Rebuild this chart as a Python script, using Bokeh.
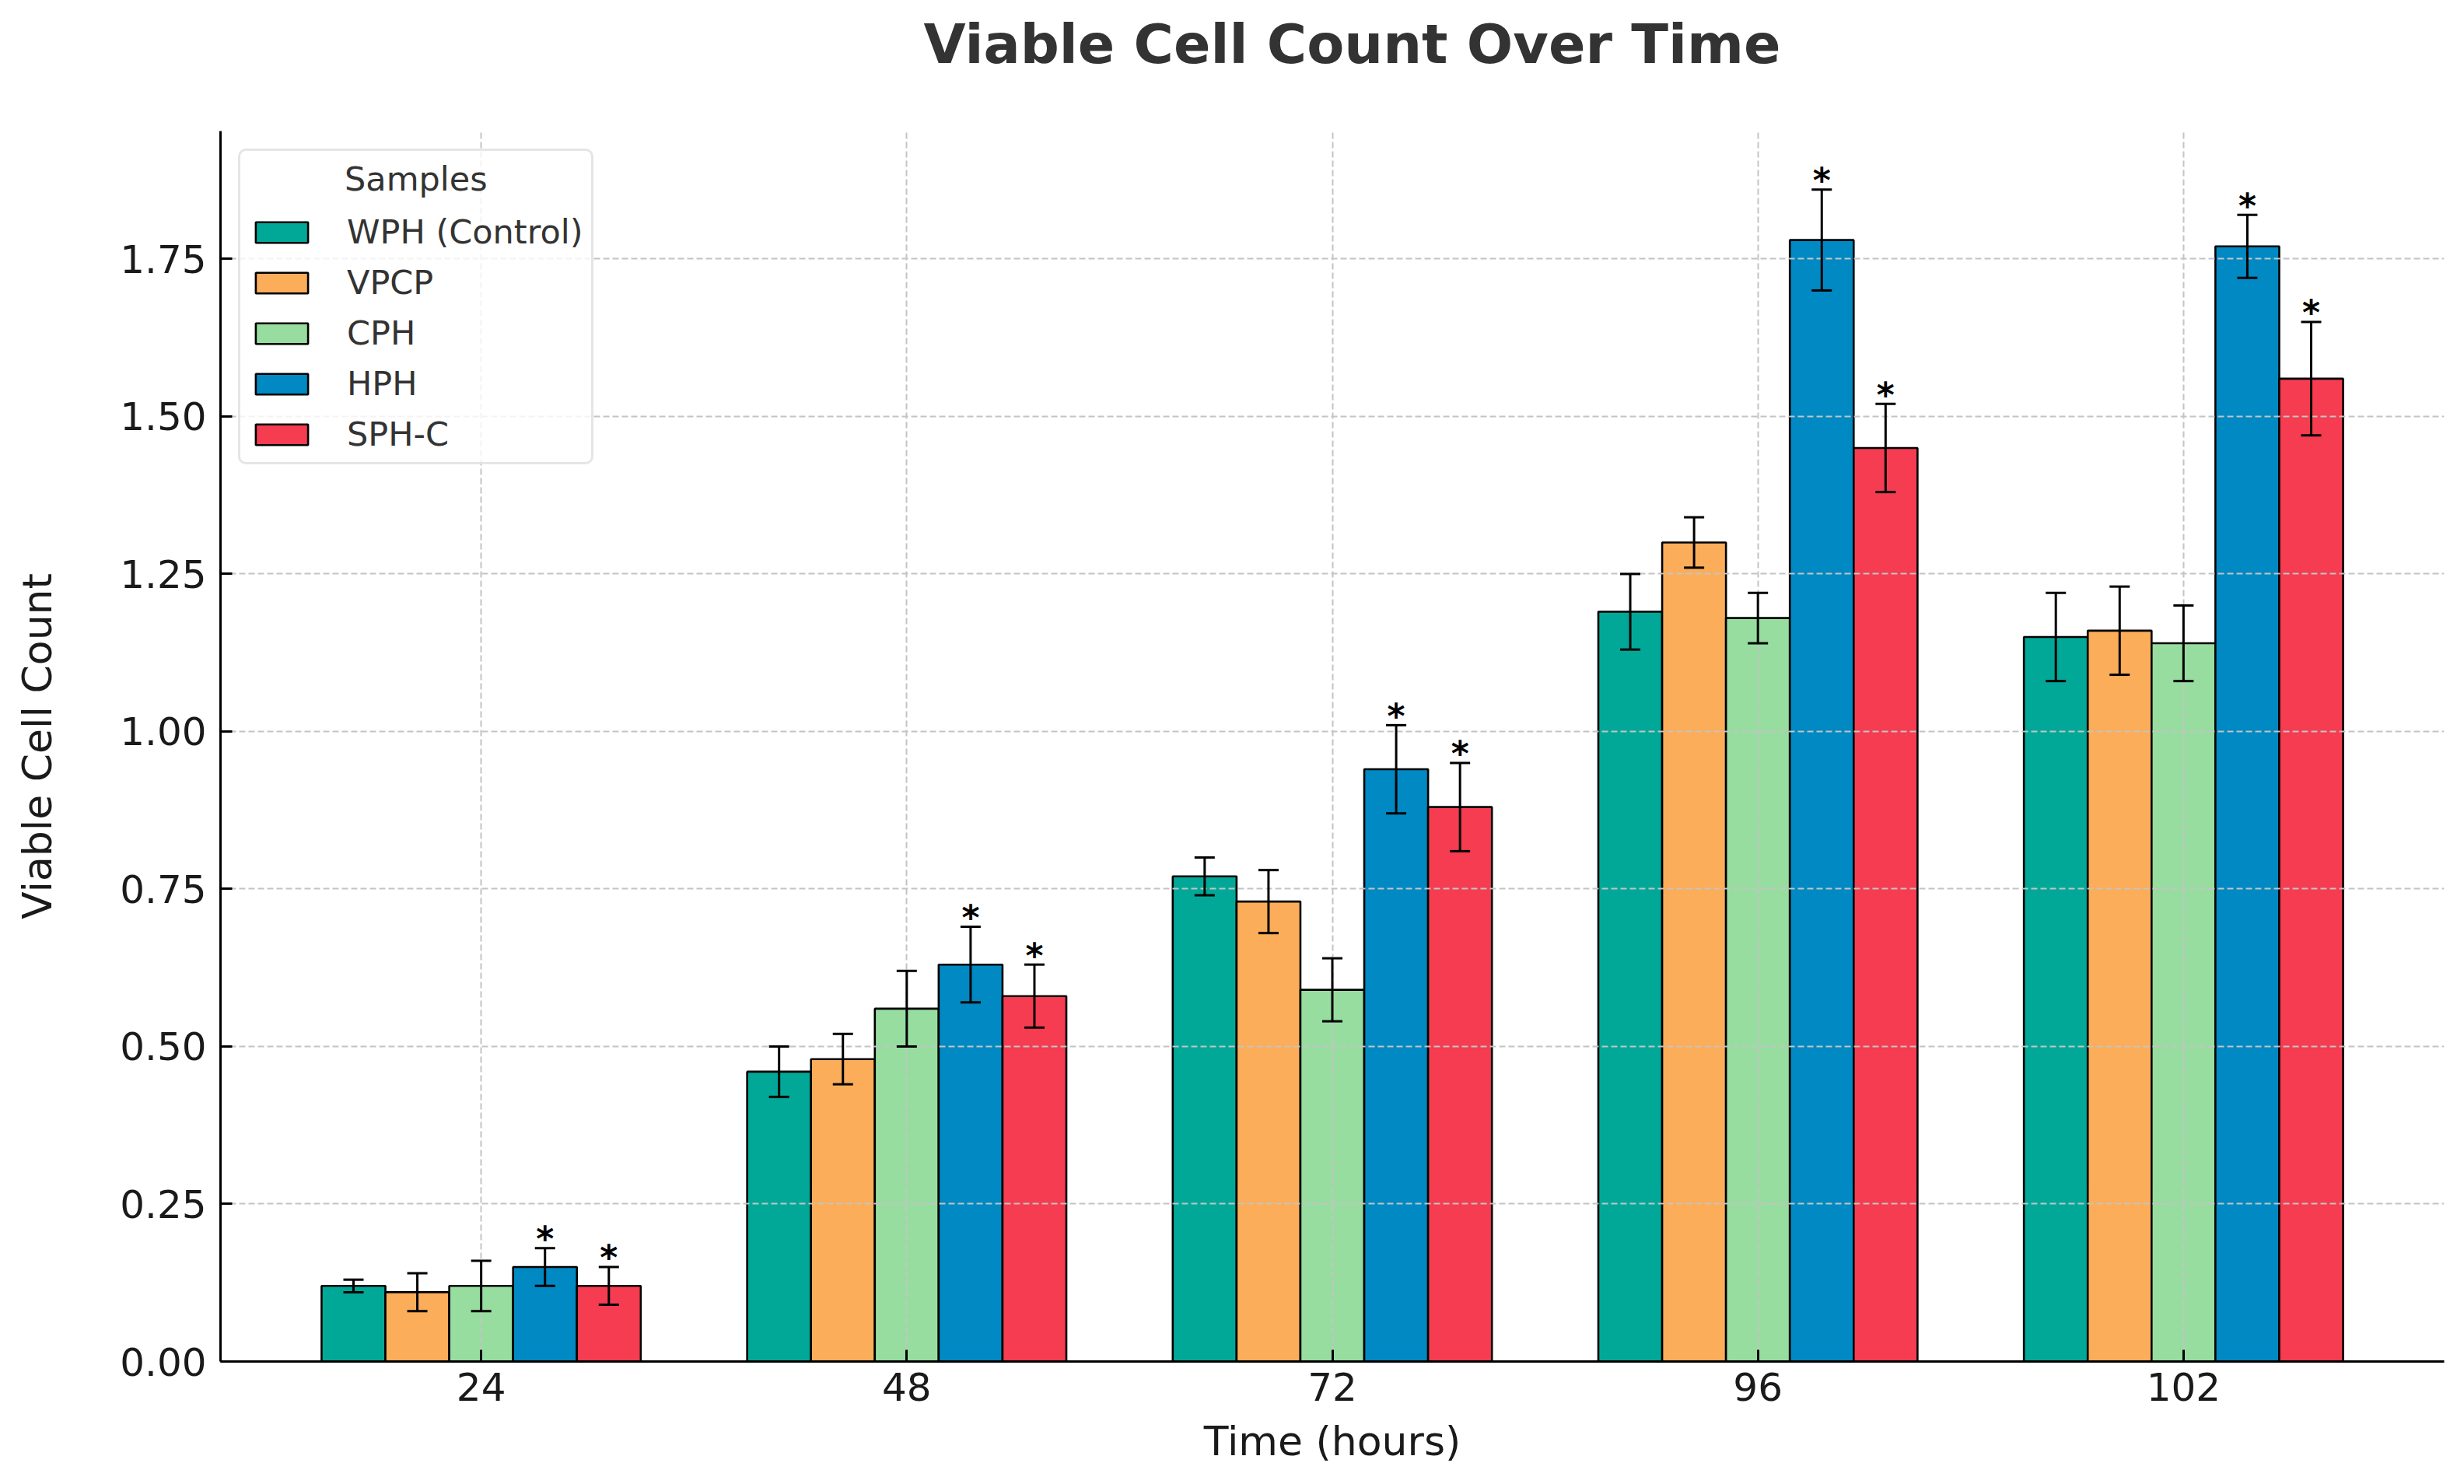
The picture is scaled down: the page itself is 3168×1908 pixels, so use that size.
from bokeh.plotting import figure
from bokeh.models import (Range1d, FixedTicker, PrintfTickFormatter, ColumnDataSource,
                          Whisker, TeeHead, Title)
from bokeh.embed import file_html
from bokeh.resources import INLINE
from bokeh.core.properties import value

# ---------------- data ----------------
time_labels = ["24", "48", "72", "96", "102"]
samples = ["WPH (Control)", "VPCP", "CPH", "HPH", "SPH-C"]

wph_mean = [0.12, 0.46, 0.77, 1.19, 1.15]
wph_err = [0.01, 0.04, 0.03, 0.06, 0.07]
vpcp_mean = [0.11, 0.48, 0.73, 1.30, 1.16]
vpcp_err = [0.03, 0.04, 0.05, 0.04, 0.07]
cph_mean = [0.12, 0.56, 0.59, 1.18, 1.14]
cph_err = [0.04, 0.06, 0.05, 0.04, 0.06]
hph_mean = [0.15, 0.63, 0.94, 1.78, 1.77]
hph_err = [0.03, 0.06, 0.07, 0.08, 0.05]
sph_mean = [0.12, 0.58, 0.88, 1.45, 1.56]
sph_err = [0.03, 0.05, 0.07, 0.07, 0.09]

significant = [False, False, False, True, True]
colors = ["#02A897", "#FCAD59", "#97DDA0", "#0089C2", "#F53C51"]
y_ticks = [0.0, 0.25, 0.5, 0.75, 1.0, 1.25, 1.5, 1.75]

means = [wph_mean, vpcp_mean, cph_mean, hph_mean, sph_mean]
errs = [wph_err, vpcp_err, cph_err, hph_err, sph_err]

FONT = value("DejaVu Sans")
bar_w = 0.15
n = len(samples)

p = figure(width=3152, height=1892, output_backend="svg", toolbar_location=None,
           x_range=Range1d(-0.6125, 4.6125), y_range=Range1d(0, 1.953),
           min_border_left=283, min_border_right=10, min_border_top=168,
           min_border_bottom=142)
p.outline_line_color = None
p.background_fill_color = "white"
p.border_fill_color = "white"

xax = p.below[0]
yax = p.left[0]

# blank spacer panel next to the frame, then the title above it
p.add_layout(Title(text="\u00a0", text_font="DejaVu Sans", text_font_size="10px",
                   standoff=53), "above")
p.add_layout(Title(text="Viable Cell Count Over Time", align="left", offset=904,
                   standoff=10, text_font="DejaVu Sans", text_font_size="70px",
                   text_font_style="bold", text_color="#333333"), "above")

for j in range(n):
    xs = [i + (j - (n - 1) / 2) * bar_w for i in range(len(time_labels))]
    upper = [m + e for m, e in zip(means[j], errs[j])]
    lower = [m - e for m, e in zip(means[j], errs[j])]
    src = ColumnDataSource(dict(x=xs, top=means[j], upper=upper, lower=lower))
    r = p.vbar(x="x", top="top", bottom=0, width=bar_w, source=src,
               fill_color=colors[j], line_color="black", line_width=2.6,
               legend_label=samples[j])
    r.level = "underlay"
    w = Whisker(base="x", upper="upper", lower="lower", source=src,
                line_color="black", line_width=3, level="annotation",
                upper_head=TeeHead(size=26, line_color="black", line_width=3),
                lower_head=TeeHead(size=26, line_color="black", line_width=3))
    p.add_layout(w)
    if significant[j]:
        p.text(x="x", y="upper", text=value("*"), source=src,
               text_align="center", text_baseline="alphabetic", y_offset=-12,
               text_font=FONT, text_font_size="44px", text_font_style="bold",
               text_color="black")

# axes
xticker = FixedTicker(ticks=list(range(len(time_labels))))
yticker = FixedTicker(ticks=y_ticks)
xax.ticker = xticker
xax.major_label_overrides = {i: t for i, t in enumerate(time_labels)}
yax.ticker = yticker
yax.formatter = PrintfTickFormatter(format="%.2f")
xax.axis_label = "Time (hours)"
yax.axis_label = "Viable Cell Count"
for ax in (xax, yax):
    ax.axis_line_width = 3
    ax.axis_line_color = "black"
    ax.major_tick_in = 15
    ax.major_tick_out = 0
    ax.major_tick_line_width = 3
    ax.major_tick_line_color = "black"
    ax.minor_tick_line_color = None
    ax.major_label_text_font = "DejaVu Sans"
    ax.major_label_text_font_size = "50px"
    ax.major_label_text_color = "#1a1a1a"
    ax.axis_label_text_font = "DejaVu Sans"
    ax.axis_label_text_font_size = "52px"
    ax.axis_label_text_font_style = "normal"
    ax.axis_label_text_color = "#1a1a1a"
xax.major_label_standoff = 14
xax.axis_label_standoff = 19
yax.major_label_standoff = 18
yax.axis_label_standoff = 73

# grid (drawn above the bars, below error bars)
xgrid = [g for g in p.center if getattr(g, "dimension", None) == 0][0]
ygrid = [g for g in p.center if getattr(g, "dimension", None) == 1][0]
xgrid.ticker = xticker
ygrid.ticker = yticker
for g in (xgrid, ygrid):
    g.grid_line_color = "#c4c4c4"
    g.grid_line_width = 2
    g.grid_line_dash = "8 4"
    g.level = "glyph"

# legend
lg = p.legend[0]
lg.location = "top_left"
lg.title = "\u00a0" * 9 + "Samples"
lg.title_text_font = "DejaVu Sans"
lg.title_text_font_size = "43px"
lg.title_text_font_style = "normal"
lg.title_text_color = "#333333"
lg.label_text_font = "DejaVu Sans"
lg.label_text_font_size = "43px"
lg.label_text_color = "#333333"
lg.glyph_width = 84
lg.glyph_height = 33
lg.label_height = 33
lg.label_standoff = 42
lg.spacing = 15
lg.padding = 11
lg.margin = 23
lg.title_standoff = 18
lg.border_line_color = "#cccccc"
lg.border_line_width = 3
lg.background_fill_alpha = 0.8
try:
    lg.border_radius = 10
except Exception:
    pass

open("out.html", "w").write(file_html(p, INLINE))
